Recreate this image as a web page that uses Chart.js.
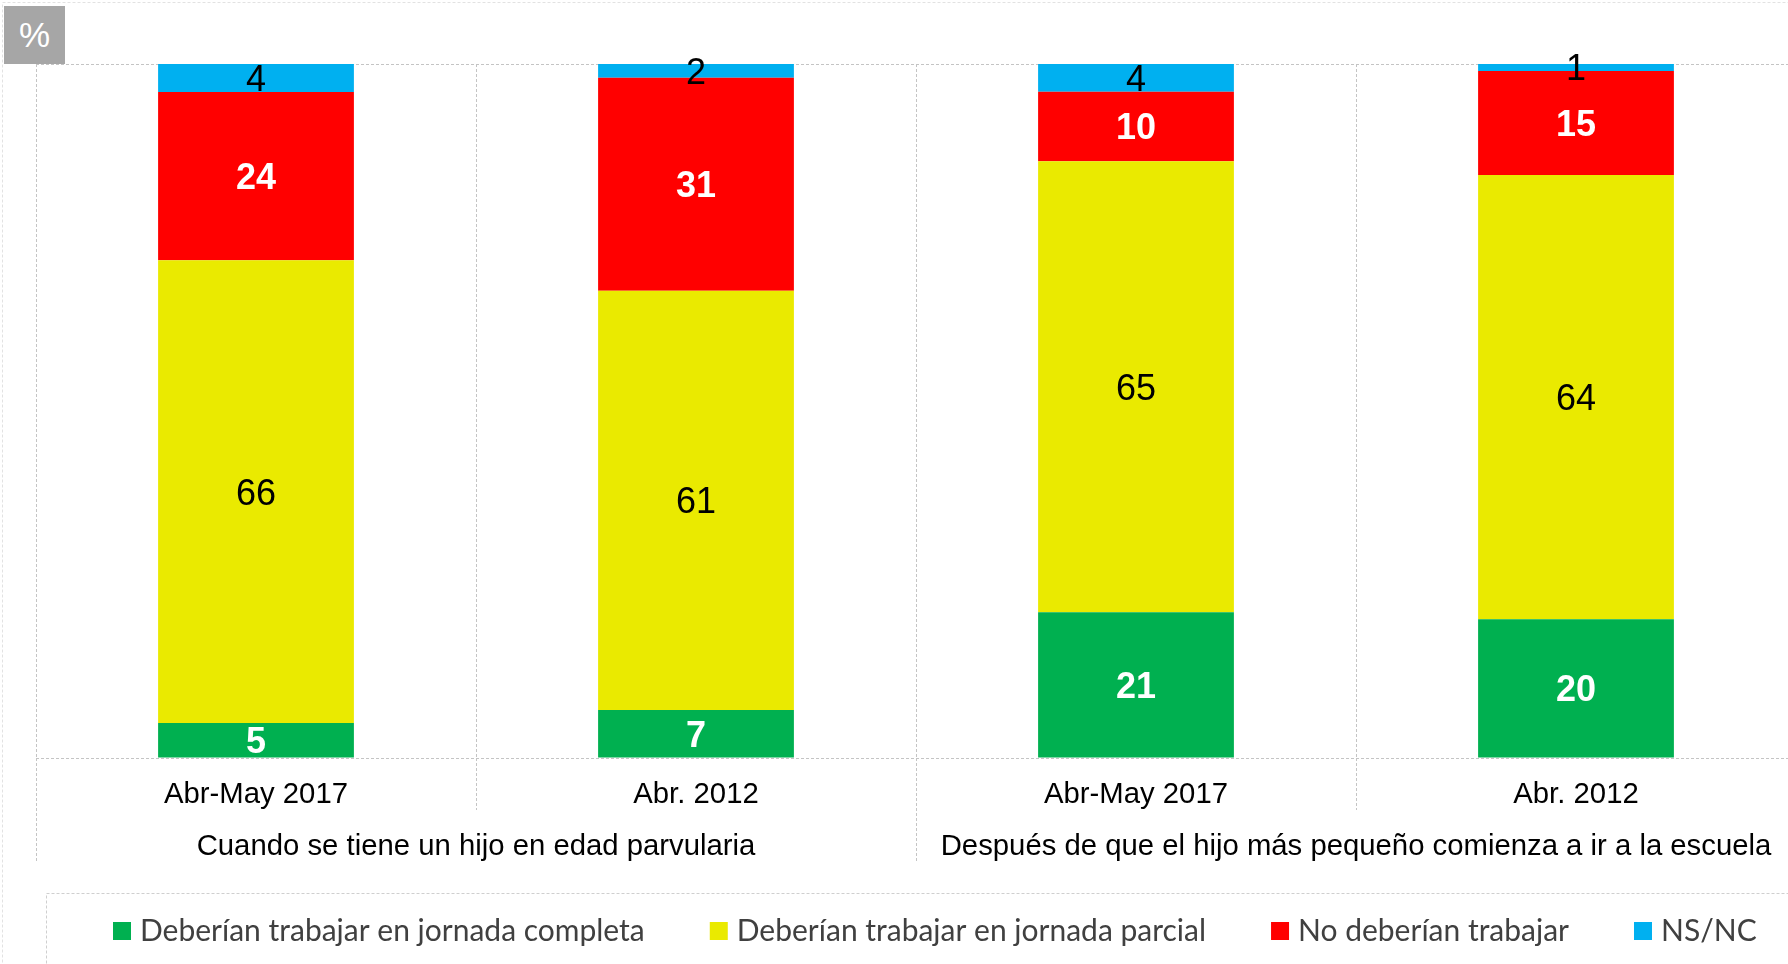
<!DOCTYPE html>
<html>
<head>
<meta charset="utf-8">
<script src="https://cdn.jsdelivr.net/npm/chart.js@4.4.1/dist/chart.umd.min.js"></script>
<style>
  html, body { margin: 0; padding: 0; background: #fff; overflow: hidden; }
  #wrap { position: relative; width: 1800px; height: 964px; }
  #pct {
    position: absolute; left: 4px; top: 6px; width: 61px; height: 58px;
    background: #a6a6a6; color: #fff; font: 35px "Liberation Sans", Arial, sans-serif;
    display: flex; align-items: center; justify-content: center;
  }
</style>
</head>
<body>
<div id="wrap">
  <canvas id="chart" width="1800" height="964"></canvas>
  <div id="pct">%</div>
</div>
<script>
// periods (x axis) and the two question groups
const periods = ["Abr-May 2017", "Abr. 2012", "Abr-May 2017", "Abr. 2012"];
const groups = [
  "Cuando se tiene un hijo en edad parvularia",
  "Después de que el hijo más pequeño comienza a ir a la escuela",
];
// values (%)
const completa = [5, 7, 21, 20];
const parcial = [66, 61, 65, 64];
const noTrabajar = [24, 31, 10, 15];
const nsnc = [4, 2, 4, 1];

const seriesNames = [
  "Deberían trabajar en jornada completa",
  "Deberían trabajar en jornada parcial",
  "No deberían trabajar",
  "NS/NC",
];
const seriesColors = ["#00b050", "#eaea00", "#ff0000", "#00b0f0"];
const allSeries = [completa, parcial, noTrabajar, nsnc];

// 100% stacked, like the original
const totals = periods.map((p, i) => allSeries.reduce((s, arr) => s + arr[i], 0));

const FONT = '"Liberation Sans", Arial, sans-serif';

const extras = {
  id: "extras",
  afterDatasetsDraw(chart) {
    const ctx = chart.ctx;
    // values on the bars
    chart.data.datasets.forEach((ds, di) => {
      const meta = chart.getDatasetMeta(di);
      meta.data.forEach((bar, i) => {
        const y = (bar.y + bar.base) / 2;
        ctx.save();
        const bold = di === 0 || di === 2;
        ctx.font = (bold ? "bold " : "") + "36px " + FONT;
        ctx.fillStyle = bold ? "#ffffff" : "#000000";
        ctx.textAlign = "center";
        ctx.textBaseline = "middle";
        ctx.fillText(String(ds.raw[i]), bar.x, y + 3);
        ctx.restore();
      });
    });
  },
  afterDraw(chart) {
    const ctx = chart.ctx;
    const area = chart.chartArea;
    const catW = (area.right - area.left) / periods.length;

    ctx.save();
    ctx.strokeStyle = "#c4c4c4";
    ctx.lineWidth = 1;
    ctx.setLineDash([3, 2]);
    // divider lines below the axis
    for (let i = 0; i <= periods.length; i++) {
      const lx = Math.round(area.left + i * catW) + 0.5;
      const end = i % 2 === 0 ? 863 : 810;
      ctx.beginPath();
      ctx.moveTo(lx, area.bottom);
      ctx.lineTo(lx, end);
      ctx.stroke();
    }
    // outer chart border and legend box
    ctx.strokeStyle = "#e2e2e2";
    ctx.strokeRect(2.5, 2.5, 1800, 1000);
    ctx.strokeStyle = "#cfcfcf";
    ctx.strokeRect(46.5, 893.5, 1800, 200);
    ctx.restore();

    // group labels
    ctx.save();
    ctx.font = "29.3px " + FONT;
    ctx.fillStyle = "#000";
    ctx.textAlign = "center";
    ctx.textBaseline = "middle";
    groups.forEach((g, gi) => {
      const cx = area.left + catW * (gi * 2 + 1);
      ctx.fillText(g, cx, 847);
    });
    ctx.restore();

    // legend
    ctx.save();
    ctx.font = "30px Lato, sans-serif";
    ctx.textBaseline = "middle";
    let lx = 113;
    const ly = 931;
    chart.data.datasets.forEach((ds) => {
      ctx.fillStyle = ds.backgroundColor;
      ctx.fillRect(lx, ly - 9, 18, 18);
      ctx.fillStyle = "#404040";
      ctx.fillText(ds.label, lx + 27, ly);
      lx += 27 + ctx.measureText(ds.label).width + 65;
    });
    ctx.restore();
  },
};

new Chart(document.getElementById("chart"), {
  type: "bar",
  data: {
    labels: periods,
    datasets: allSeries.map((arr, k) => ({
      label: seriesNames[k],
      data: arr.map((v, i) => (v / totals[i]) * 100),
      raw: arr,
      backgroundColor: seriesColors[k],
      borderWidth: 0,
      barPercentage: 0.445,
      categoryPercentage: 1,
    })),
  },
  options: {
    responsive: false,
    animation: false,
    layout: { padding: { left: 36, top: 64, right: 4, bottom: 0 } },
    plugins: { legend: { display: false }, tooltip: { enabled: false } },
    scales: {
      x: {
        stacked: true,
        afterFit: (s) => { s.height = 206; },
        grid: { offset: true, color: "#c4c4c4", drawTicks: false },
        border: { display: false, dash: [3, 2] },
        ticks: { font: { family: FONT, size: 29.3 }, color: "#000", padding: 19, maxRotation: 0 },
      },
      y: {
        stacked: true,
        min: 0,
        max: 100,
        afterFit: (s) => { s.width = 0; },
        ticks: { display: false, stepSize: 100 },
        grid: { color: "#c4c4c4", drawTicks: false },
        border: { display: false, dash: [3, 2] },
      },
    },
  },
  plugins: [extras],
});
</script>
</body>
</html>
